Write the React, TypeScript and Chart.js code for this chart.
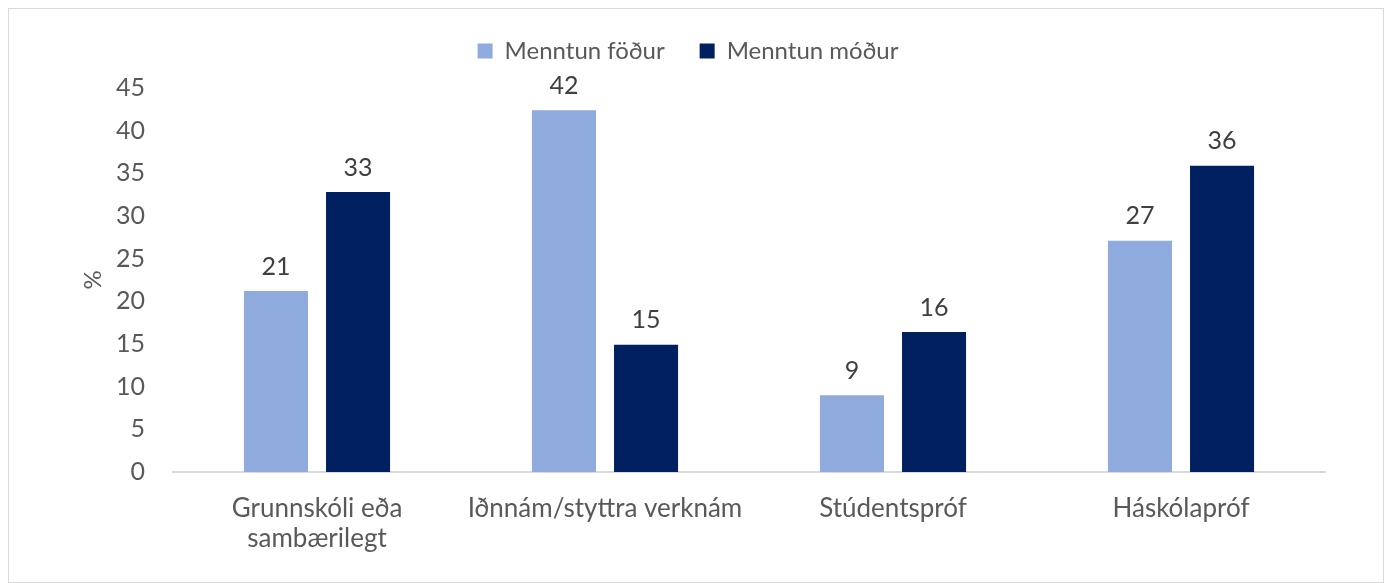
import React, { useEffect, useRef } from "react";
import { Chart, registerables } from "chart.js";

Chart.register(...registerables);

const categories: (string | string[])[] = [
  ["Grunnskóli eða", "sambærilegt"],
  "Iðnnám/styttra verknám",
  "Stúdentspróf",
  "Háskólapróf",
];
const fatherValues = [21.2, 42.4, 9.0, 27.1];
const motherValues = [32.8, 14.9, 16.4, 35.9];
const yTicks = [0, 5, 10, 15, 20, 25, 30, 35, 40, 45];
const seriesNames = ["Menntun föður", "Menntun móður"];

const FONT = "Lato, 'Open Sans', sans-serif";
const TEXT = "#595959";
const LEGEND_HEIGHT = 84;

const dataLabelPlugin = {
  id: "dataLabels",
  afterDatasetsDraw(chart: any) {
    const ctx = chart.ctx;
    ctx.save();
    ctx.font = `25px ${FONT}`;
    ctx.fillStyle = "#404040";
    ctx.textAlign = "center";
    ctx.textBaseline = "bottom";
    chart.data.datasets.forEach((ds: any, i: number) => {
      const meta = chart.getDatasetMeta(i);
      meta.data.forEach((bar: any, j: number) => {
        const v = ds.data[j];
        ctx.fillText(String(Math.round(v)), bar.x, bar.y - 12);
      });
    });
    ctx.restore();
  },
};

const legendSpacer = {
  id: "legendSpacer",
  beforeLayout(chart: any) {
    const lg = chart.legend;
    if (lg && !lg.__patched) {
      const orig = lg.fit.bind(lg);
      lg.fit = function () {
        orig();
        this.height = LEGEND_HEIGHT;
      };
      lg.__patched = true;
    }
  },
};

export default function App() {
  const ref = useRef<HTMLCanvasElement>(null);
  useEffect(() => {
    if (!ref.current) return;
    const chart = new Chart(ref.current, {
      type: "bar",
      data: {
        labels: categories,
        datasets: [
          {
            label: seriesNames[0],
            data: fatherValues,
            backgroundColor: "#8faadc",
            barPercentage: 0.78,
            categoryPercentage: 0.57,
          },
          {
            label: seriesNames[1],
            data: motherValues,
            backgroundColor: "#002060",
            barPercentage: 0.78,
            categoryPercentage: 0.57,
          },
        ],
      },
      options: {
        animation: false,
        responsive: true,
        maintainAspectRatio: false,
        layout: { padding: { top: -5, right: 58, bottom: 0, left: 42 } },
        plugins: {
          legend: {
            position: "top",
            labels: {
              boxWidth: 15,
              boxHeight: 15,
              color: TEXT,
              font: { family: FONT, size: 24 },
              padding: 35,
            },
          },
          tooltip: { enabled: false },
        },
        scales: {
          x: {
            grid: { display: false },
            border: { color: "#d9d9d9", width: 2 },
            ticks: {
              color: TEXT,
              font: { family: FONT, size: 26, lineHeight: 1.17 },
              padding: 13,
              maxRotation: 0,
              autoSkip: false,
            },
            afterFit(scale: any) {
              scale.height = 110;
            },
          },
          y: {
            min: 0,
            max: 45,
            afterBuildTicks(scale: any) {
              scale.ticks = yTicks.map((v) => ({ value: v }));
            },
            grid: { display: false },
            border: { display: false },
            ticks: {
              color: TEXT,
              font: { family: FONT, size: 25 },
              padding: 20,
            },
            title: {
              display: true,
              text: "%",
              color: TEXT,
              font: { family: FONT, size: 24 },
              padding: { top: 28, bottom: 0 },
            },
            afterFit(scale: any) {
              scale.width = 122;
            },
          },
        },
      },
      plugins: [legendSpacer, dataLabelPlugin],
    });
    return () => chart.destroy();
  }, []);
  return (
    <div
      style={{
        position: "relative",
        width: 1374,
        height: 573,
        border: "1px solid #d9d9d9",
        background: "#fff",
      }}
    >
      <canvas ref={ref} />
    </div>
  );
}
